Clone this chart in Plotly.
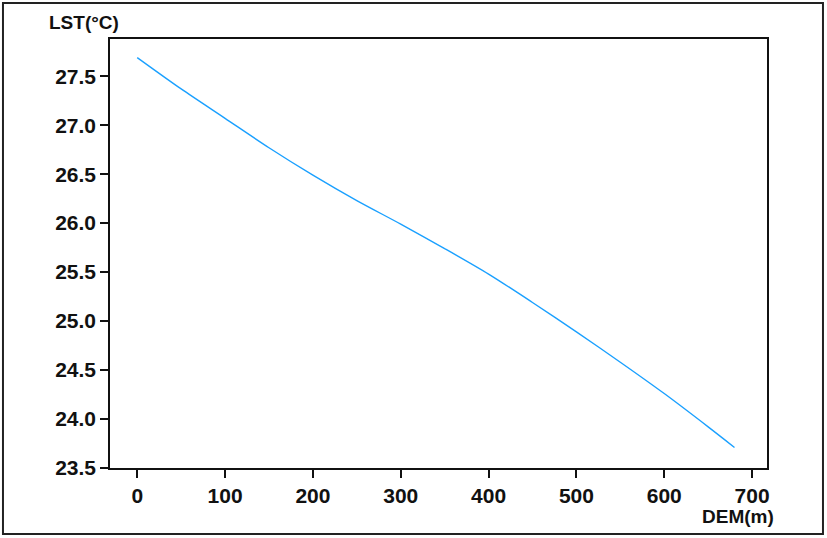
import plotly.graph_objects as go

dem = [0, 50, 100, 150, 200, 250, 300, 350, 400, 450, 500, 550, 600, 650, 680]
lst = [27.69, 27.37, 27.07, 26.77, 26.49, 26.23, 25.99, 25.74, 25.48, 25.19, 24.89, 24.58, 24.26, 23.92, 23.71]

x_ticks = [0, 100, 200, 300, 400, 500, 600, 700]
y_ticks = [23.5, 24.0, 24.5, 25.0, 25.5, 26.0, 26.5, 27.0, 27.5]

FONT = "Liberation Sans, Arial, Helvetica, sans-serif"

fig = go.Figure()
fig.add_trace(go.Scatter(
    x=dem, y=lst, mode="lines",
    line=dict(color="rgb(26,160,255)", width=1.4, shape="spline", smoothing=0.8),
    showlegend=False, hoverinfo="skip"))

axis_common = dict(
    showline=True, linecolor="#111", linewidth=1.5, mirror=True,
    showgrid=False, zeroline=False,
    ticks="outside", ticklen=8, tickwidth=1.5, tickcolor="#111",
    tickfont=dict(family=FONT, size=21, color="#111", weight="bold"),
)

fig.update_xaxes(range=[-31, 717], tickvals=x_ticks,
                 ticktext=[str(v) for v in x_ticks], **axis_common)
fig.update_yaxes(range=[23.5, 27.88], tickvals=y_ticks,
                 ticktext=[f"{v:.1f}" for v in y_ticks], **axis_common)

fig.add_annotation(text="LST(°C)", xref="paper", yref="paper",
                   x=-0.0403, y=1.0373, xanchor="center", yanchor="middle",
                   showarrow=False,
                   font=dict(family=FONT, size=19, color="#111", weight="bold"))
fig.add_annotation(text="DEM(m)", xref="paper", yref="paper",
                   x=0.9566, y=-0.1119, xanchor="center", yanchor="middle",
                   showarrow=False,
                   font=dict(family=FONT, size=19, color="#111", weight="bold"))

fig.add_shape(type="rect", xref="paper", yref="paper",
              x0=-0.1629, x1=1.0852, y0=-0.1538, y1=1.0839,
              line=dict(color="#222", width=2), fillcolor="rgba(0,0,0,0)")

fig.update_layout(
    width=827, height=538,
    margin=dict(l=110, r=60, t=39, b=70),
    plot_bgcolor="white", paper_bgcolor="white",
)

fig.write_html("out.html", config={"displayModeBar": False},
               post_script="document.body.style.margin='0';document.body.style.overflow='hidden';")
